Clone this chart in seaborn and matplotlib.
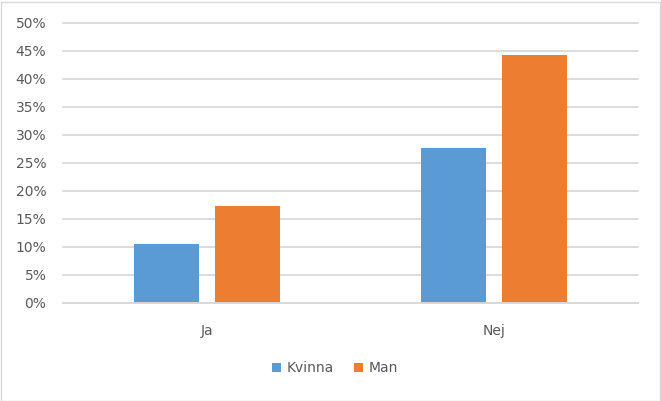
import pandas as pd
import matplotlib
matplotlib.use('Agg')
import matplotlib.pyplot as plt
import seaborn as sns
from matplotlib.ticker import PercentFormatter
from matplotlib.patches import Rectangle

categories = ['Ja', 'Nej']
kvinna = [10.5, 27.7]
man = [17.4, 44.3]

data = pd.DataFrame({
    'svar': categories * 2,
    'kon': ['Kvinna'] * 2 + ['Man'] * 2,
    'andel': kvinna + man,
})

sns.set_style('white')
plt.rcParams['font.family'] = ['DejaVu Sans']

fig = plt.figure(figsize=(6.61, 4.01), dpi=100)
ax = fig.add_axes([63 / 661, 98 / 401, 575 / 661, 280 / 401])

sns.barplot(data=data, x='svar', y='andel', hue='kon',
            palette=['#5B9BD5', '#ED7D31'], width=0.564, gap=0.2,
            saturation=1, ax=ax, errorbar=None, linewidth=0)

ax.set_xlim(-0.5, 1.5)
ax.set_ylim(0, 50)
ax.set_yticks(range(0, 51, 5))
ax.yaxis.set_major_formatter(PercentFormatter(decimals=0))
ax.grid(axis='y', color='#D9D9D9', linewidth=1.3)
for line in ax.get_ygridlines():
    line.set_clip_on(False)
ax.set_axisbelow(True)
for s in ['top', 'right', 'left']:
    ax.spines[s].set_visible(False)
ax.spines['bottom'].set_color('#D9D9D9')
ax.spines['bottom'].set_linewidth(1.3)
ax.tick_params(axis='y', length=0, pad=12, labelsize=10, labelcolor='#595959')
ax.tick_params(axis='x', length=0, pad=15, labelsize=10, labelcolor='#595959')
ax.set_xlabel('')
ax.set_ylabel('')

ax.legend(loc='center', bbox_to_anchor=(335 / 661, 1 - 368 / 401),
          bbox_transform=fig.transFigure, ncol=2, frameon=False,
          fontsize=10, labelcolor='#595959', handlelength=0.6,
          handleheight=0.6, handletextpad=0.4, columnspacing=1.5)

fig.patches.append(Rectangle((0.5 / 661, 0.5 / 401), 659 / 661, 399 / 401,
                             transform=fig.transFigure, fill=False,
                             edgecolor='#D9D9D9', linewidth=1))

fig.savefig('out.png', dpi=100)
